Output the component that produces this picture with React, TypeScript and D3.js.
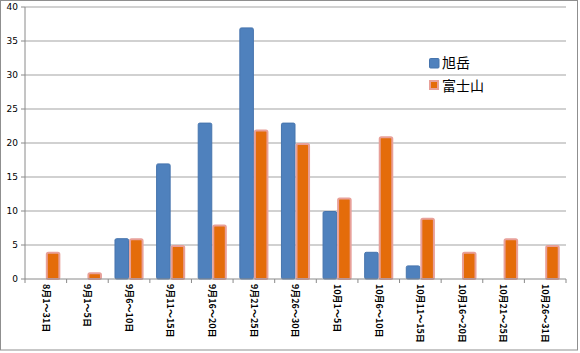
import React from "react";
import * as d3 from "d3";

const categories = [
  "8月1～31日", "9月1～5日", "9月6～10日", "9月11～15日", "9月16～20日",
  "9月21～25日", "9月26～30日", "10月1～5日", "10月6～10日", "10月11～15日",
  "10月16～20日", "10月21～25日", "10月26～31日",
];
const seriesNames = ["旭岳", "富士山"];
const asahidake = [0, 0, 6, 17, 23, 37, 23, 10, 4, 2, 0, 0, 0];
const fujisan = [4, 1, 6, 5, 8, 22, 20, 12, 21, 9, 4, 6, 5];
const yTicks = [0, 5, 10, 15, 20, 25, 30, 35, 40];

const W = 580, H = 353;
const left = 25, right = 566, top = 7, bottom = 279;

export default function App() {
  const x = d3.scaleBand<string>().domain(categories).range([left, right]).padding(0);
  const xs = d3.scaleBand<string>().domain(seriesNames).range([0, x.bandwidth()]).paddingInner(0).paddingOuter(0.43);
  const y = d3.scaleLinear().domain([0, 40]).range([bottom, top]);
  const series = [
    { name: seriesNames[0], values: asahidake, fill: "#4f81bd", stroke: "#4674ad", sw: 1 },
    { name: seriesNames[1], values: fujisan, fill: "#e46c0a", stroke: "#e8a099", sw: 2 },
  ];
  const step = x.step();
  return (
    <svg width={W} height={H} style={{ position: "absolute", left: 0, top: 0, background: "#fff" }}>
      <rect x={0.5} y={0.5} width={577} height={349.5} fill="#fff" stroke="#8f8f8f" />
      {yTicks.map((t) => (
        <g key={t}>
          {t > 0 && (
            <line x1={left} x2={right} y1={y(t)} y2={y(t)} stroke="#a3a3a3" strokeWidth={1.2} />
          )}
          <line x1={left - 4} x2={left} y1={y(t)} y2={y(t)} stroke="#8a8a8a" />
          <text x={18} y={y(t)} dy="0.35em" textAnchor="end" fontFamily="DejaVu Sans" fontSize={9} fill="#000">
            {t}
          </text>
        </g>
      ))}
      <line x1={left} x2={left} y1={top} y2={bottom} stroke="#8a8a8a" />
      {series.map((s) =>
        s.values.map((v, i) =>
          v > 0 ? (
            <rect
              key={s.name + i}
              x={(x(categories[i]) as number) + (xs(s.name) as number) + s.sw / 2}
              y={y(v) + s.sw / 2}
              width={xs.bandwidth() - s.sw}
              height={y(0) - y(v) - s.sw / 2}
              rx={1.5}
              fill={s.fill}
              stroke={s.stroke}
              strokeWidth={s.sw}
            />
          ) : null
        )
      )}
      <line x1={left} x2={right} y1={bottom} y2={bottom} stroke="#8a8a8a" />
      {d3.range(categories.length + 1).map((i) => (
        <line key={i} x1={left + i * step} x2={left + i * step} y1={bottom} y2={bottom + 4} stroke="#8a8a8a" />
      ))}
      {categories.map((c) => {
        const cx = (x(c) as number) + x.bandwidth() / 2;
        return (
          <text
            key={c}
            transform={`translate(${cx},${bottom + 5}) rotate(90)`}
            dy="0.35em"
            textAnchor="start"
            fontFamily="Noto Sans CJK JP"
            fontWeight="bold"
            fontSize={9}
            fill="#000"
          >
            {c}
          </text>
        );
      })}
      <g>
        <rect x={429.5} y={58.5} width={9.5} height={9.5} fill="#4f81bd" stroke="#4674ad" rx={1} />
        <text x={442} y={68} fontFamily="Noto Sans CJK JP" fontSize={14} fill="#000">{seriesNames[0]}</text>
        <rect x={430} y={81} width={8} height={8} fill="#e46c0a" stroke="#e8a099" strokeWidth={2} />
        <text x={442} y={91} fontFamily="Noto Sans CJK JP" fontSize={14} fill="#000">{seriesNames[1]}</text>
      </g>
    </svg>
  );
}
